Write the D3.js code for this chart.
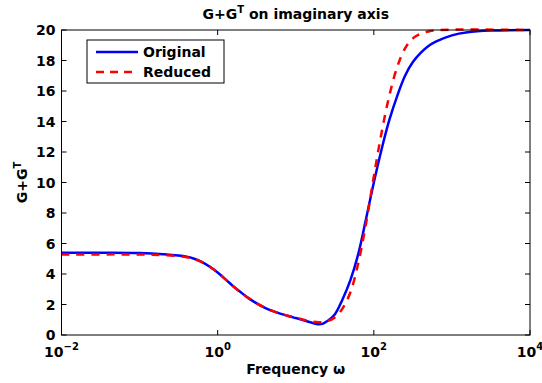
<!DOCTYPE html>
<html>
<head>
<meta charset="utf-8">
<script src="https://cdn.jsdelivr.net/npm/d3@7"></script>
<style>
  html, body { margin: 0; padding: 0; background: #fff; }
  svg { display: block; font-family: "DejaVu Sans", "Liberation Sans", Arial, sans-serif; font-weight: bold; }
</style>
</head>
<body>
<svg id="chart" width="542" height="383"></svg>
<script>
// ---- data ----
const freqOriginal = [0.01, 0.0316, 0.1, 0.2, 0.4, 0.5, 0.631, 0.794, 1, 1.26, 1.58, 2, 2.51, 3.16, 3.98, 5.01, 6.31, 7.94, 10, 12.6, 15.8, 17.8, 20, 22.4, 25.1, 31.6, 39.8, 50.1, 63.1, 79.4, 100, 126, 158, 200, 251, 316, 398, 501, 631, 1000, 1585, 3162, 10000];
const valOriginal  = [5.40, 5.40, 5.38, 5.30, 5.14, 5.0, 4.78, 4.48, 4.1, 3.65, 3.2, 2.78, 2.4, 2.07, 1.8, 1.58, 1.40, 1.25, 1.11, 0.97, 0.82, 0.74, 0.70, 0.75, 0.9, 1.35, 2.35, 3.6, 5.3, 7.6, 10.0, 12.2, 14.1, 15.7, 17.0, 17.9, 18.5, 18.95, 19.25, 19.65, 19.85, 19.96, 20.0];
const freqReduced  = [0.01, 0.1, 0.2, 0.4, 0.5, 0.631, 0.794, 1, 1.26, 1.58, 2, 2.51, 3.16, 3.98, 5.01, 6.31, 7.94, 10, 12.6, 15.8, 20, 25.1, 31.6, 39.8, 50.1, 63.1, 79.4, 100, 126, 158, 200, 251, 316, 398, 501, 708, 10000];
const valReduced   = [5.28, 5.28, 5.24, 5.10, 4.98, 4.78, 4.48, 4.1, 3.65, 3.2, 2.78, 2.4, 2.07, 1.8, 1.58, 1.40, 1.26, 1.13, 1.0, 0.89, 0.84, 0.9, 1.15, 1.75, 2.8, 4.7, 7.3, 10.4, 13.3, 15.7, 17.6, 18.8, 19.45, 19.75, 19.9, 20.0, 20.0];
const xTicks = [0.01, 1, 100, 10000];
const xTickExp = ["\u22122", "0", "2", "4"];
const yTicks = [0, 2, 4, 6, 8, 10, 12, 14, 16, 18, 20];
const seriesNames = ["Original", "Reduced"];
const seriesColors = ["#0000ff", "#ff0000"];

// ---- layout ----
const svg = d3.select("#chart");
const L = 61.5, R = 530, T = 30, B = 335;
const FS = 14, FSsup = 10;
const x = d3.scaleLog().domain([0.01, 10000]).range([L, R]);
const y = d3.scaleLinear().domain([0, 20]).range([B, T]);

const g = svg.append("g");

svg.append("defs").append("clipPath").attr("id", "clip")
  .append("rect").attr("x", L).attr("y", T - 2).attr("width", R - L).attr("height", B - T + 2);

const line = d3.line().x(d => x(d[0])).y(d => y(d[1])).curve(d3.curveCatmullRom.alpha(0.5));
const dataO = freqOriginal.map((f, i) => [f, valOriginal[i]]);
const dataR = freqReduced.map((f, i) => [f, valReduced[i]]);

g.append("path").datum(dataO).attr("d", line).attr("fill", "none")
  .attr("stroke", seriesColors[0]).attr("stroke-width", 2.5).attr("clip-path", "url(#clip)");
g.append("path").datum(dataR).attr("d", line).attr("fill", "none")
  .attr("stroke", seriesColors[1]).attr("stroke-width", 2.5).attr("stroke-dasharray", "8,7")
  .attr("clip-path", "url(#clip)");

// box
g.append("rect").attr("x", L).attr("y", T).attr("width", R - L).attr("height", B - T)
  .attr("fill", "none").attr("stroke", "#000").attr("stroke-width", 1);

// ticks (inward, both sides)
const tl = 5;
xTicks.forEach(t => {
  const px = x(t);
  g.append("line").attr("x1", px).attr("x2", px).attr("y1", B).attr("y2", B - tl).attr("stroke", "#000");
  g.append("line").attr("x1", px).attr("x2", px).attr("y1", T).attr("y2", T + tl).attr("stroke", "#000");
});
yTicks.forEach(t => {
  const py = y(t);
  g.append("line").attr("x1", L).attr("x2", L + tl).attr("y1", py).attr("y2", py).attr("stroke", "#000");
  g.append("line").attr("x1", R).attr("x2", R - tl).attr("y1", py).attr("y2", py).attr("stroke", "#000");
});

// y tick labels
yTicks.forEach(t => {
  g.append("text").attr("x", L - 6).attr("y", y(t)).attr("dy", "0.36em")
    .attr("text-anchor", "end").attr("font-size", FS).text(t);
});

// x tick labels 10^n
xTicks.forEach((t, i) => {
  const tx = g.append("text").attr("x", x(t)).attr("y", 357).attr("text-anchor", "middle").attr("font-size", FS);
  tx.append("tspan").text("10");
  tx.append("tspan").attr("dy", -7).attr("font-size", FSsup).text(xTickExp[i]);
});

// axis labels
svg.append("text").attr("x", (L + R) / 2).attr("y", 374).attr("text-anchor", "middle")
  .attr("font-size", FS).text("Frequency \u03c9");

const yl = svg.append("text").attr("transform", `translate(27,${(T + B) / 2}) rotate(-90)`)
  .attr("text-anchor", "middle").attr("font-size", FS);
yl.append("tspan").text("G+G");
yl.append("tspan").attr("dy", -6).attr("font-size", FSsup).text("T");

// title
const ti = svg.append("text").attr("x", (L + R) / 2).attr("y", 19).attr("text-anchor", "middle").attr("font-size", FS);
ti.append("tspan").text("G+G");
ti.append("tspan").attr("dy", -6).attr("font-size", FSsup).text("T");
ti.append("tspan").attr("dy", 6).text(" on imaginary axis");

// legend
const lg = svg.append("g");
lg.append("rect").attr("x", 87).attr("y", 40).attr("width", 137).attr("height", 43)
  .attr("fill", "#fff").attr("stroke", "#000").attr("stroke-width", 1);
seriesNames.forEach((n, i) => {
  const ly = 52 + i * 20;
  lg.append("line").attr("x1", 96).attr("x2", 138).attr("y1", ly).attr("y2", ly)
    .attr("stroke", seriesColors[i]).attr("stroke-width", 2.5)
    .attr("stroke-dasharray", i === 1 ? "8,6" : null);
  lg.append("text").attr("x", 143).attr("y", ly).attr("dy", "0.36em").attr("font-size", FS).text(n);
});
</script>
</body>
</html>
